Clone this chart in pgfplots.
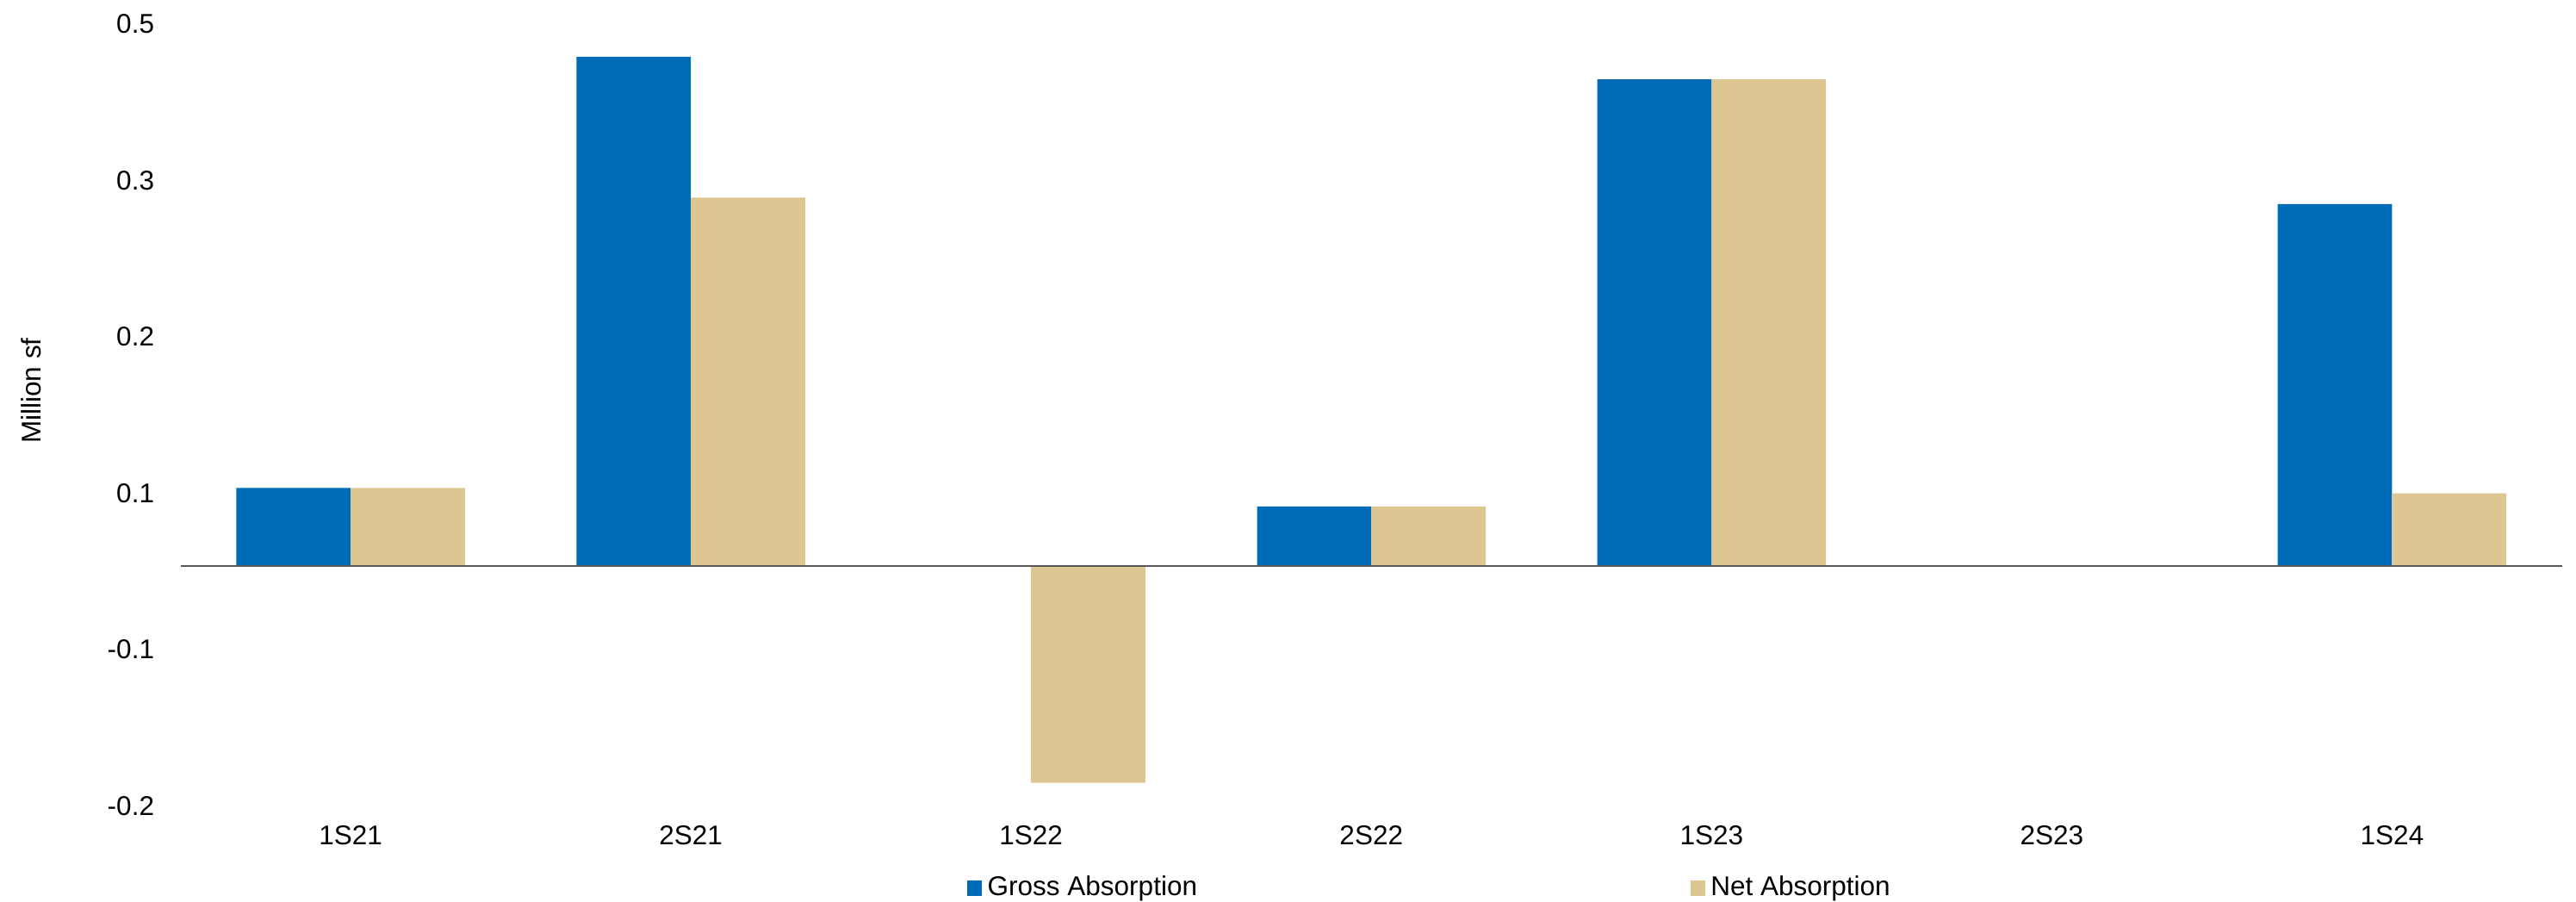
\documentclass[border=0pt]{standalone}
\usepackage{fontspec}
\setmainfont{Liberation Sans}
\usepackage{pgfplots}
\pgfplotsset{compat=1.18}
\definecolor{gblue}{HTML}{006CB7}
\definecolor{ntan}{HTML}{DEC693}
\definecolor{axgray}{HTML}{595959}
\pgfplotsset{sqlegend/.style={legend image code/.code={\fill[##1] (0pt,-2.7pt) rectangle (5.4pt,2.7pt);}}}
\begin{document}
\begin{tikzpicture}
\begin{axis}[
  name=ax,
  scale only axis, width=864.5pt, height=295.4pt,
  ybar=0pt, bar width=0.336,
  xmin=-0.5, xmax=6.5, ymin=-0.2289, ymax=0.5223,
  axis line style={draw=none}, tick style={draw=none},
  xtick={0,1,2,3,4,5,6},
  xticklabels={1S21,2S21,1S22,2S22,1S23,2S23,1S24},
  ytick={-0.2214,-0.0771,0.0672,0.2114,0.3557,0.5},
  yticklabels={-0.2,-0.1,0.1,0.2,0.3,0.5},
  font=\fontsize{9.85}{11.8}\selectfont,
  ticklabel style={font=\fontsize{9.85}{11.8}\selectfont},
  yticklabel style={xshift=-6pt},
  xticklabel style={yshift=3.7pt},
  ylabel={Million sf},
  ylabel style={at={(axis description cs:-0.0626,0.52)}, anchor=center},
  legend columns=2,
  legend style={draw=none, at={(axis description cs:0.3303,-0.091)}, anchor=west,
    inner sep=0pt, outer sep=0pt, font=\fontsize{9.85}{11.8}\selectfont,
    /tikz/every even column/.append style={column sep=177pt}},
]
\addplot[fill=gblue, draw=none, sqlegend] coordinates {(0,0.072) (1,0.470) (3,0.055) (4,0.449) (6,0.334)};
\addlegendentry{Gross Absorption}
\addplot[fill=ntan, draw=none, sqlegend] coordinates {(0,0.072) (1,0.340) (2,-0.200) (3,0.055) (4,0.449) (6,0.067)};
\addlegendentry{Net Absorption}
\draw[axgray, line width=0.6pt] (axis cs:-0.5,0) -- (axis cs:6.5,0);
\end{axis}
\pgfresetboundingbox
\path ([xshift=-65.5pt]ax.north west) rectangle ([xshift=5pt,yshift=-31.9pt]ax.south east);
\end{tikzpicture}
\end{document}
